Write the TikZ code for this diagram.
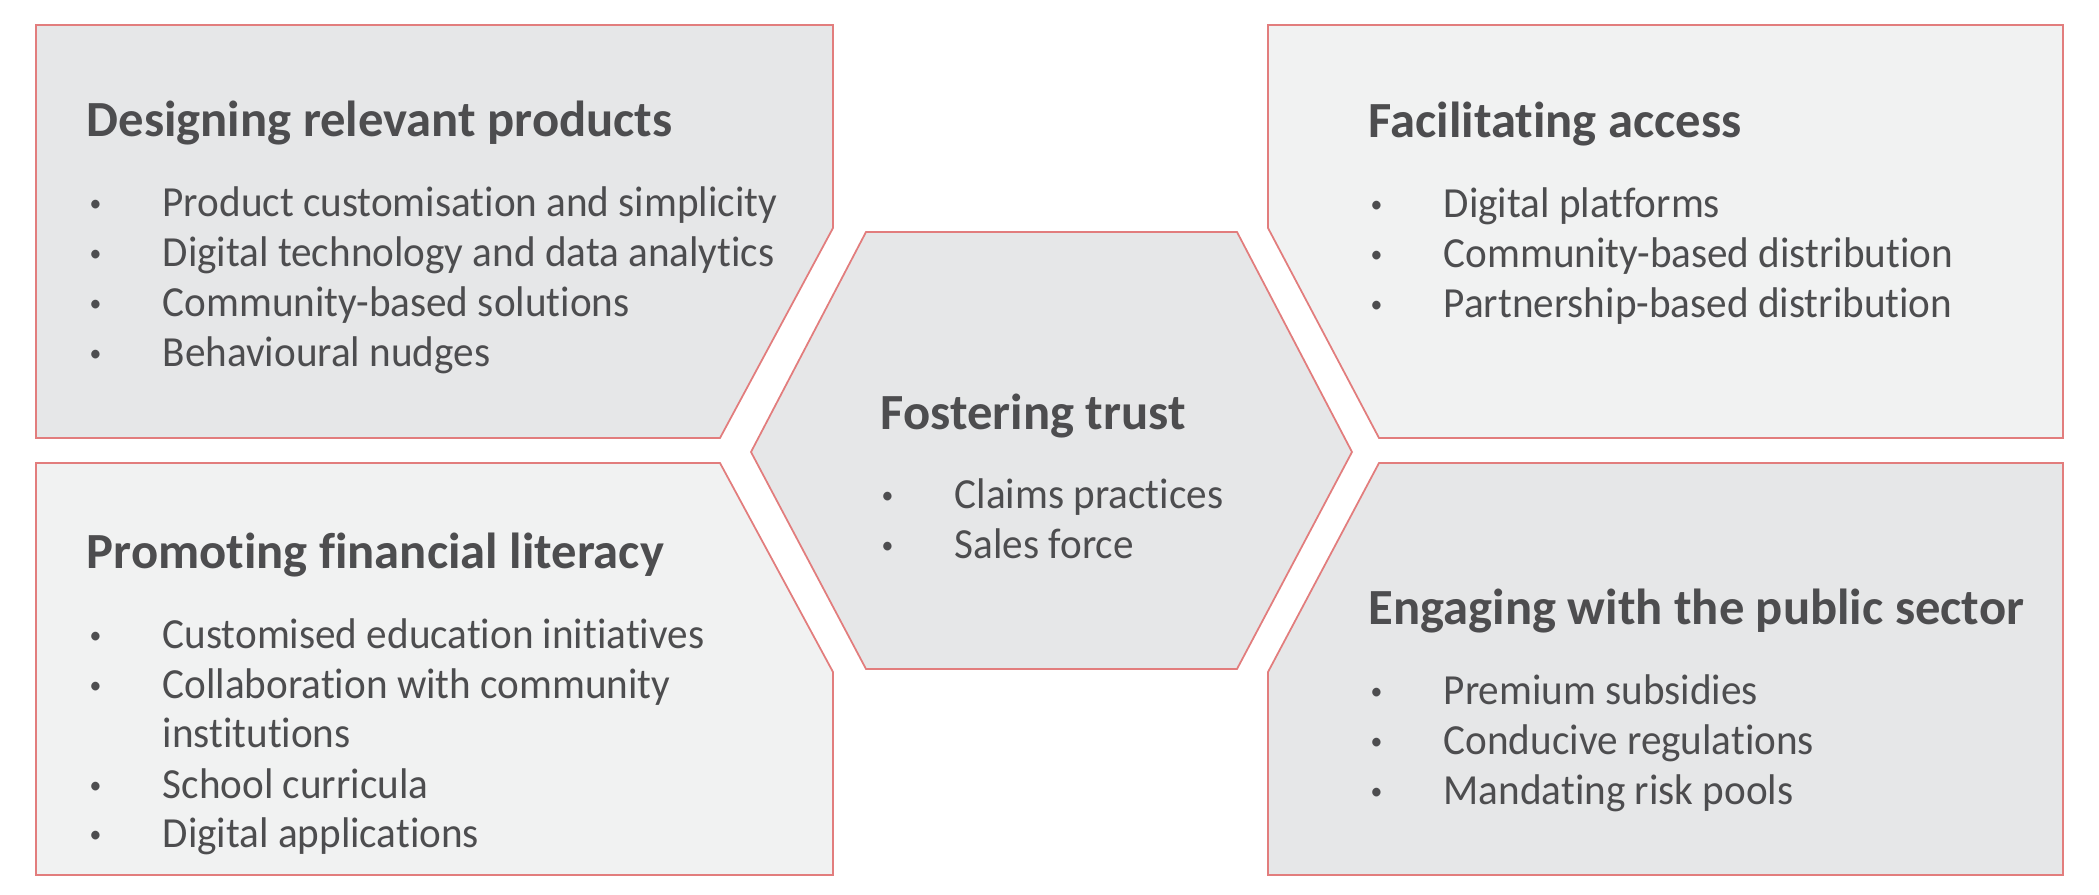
\documentclass[tikz,border=0pt]{standalone}
\usepackage{fontspec}
\setmainfont{Carlito}[Ligatures=NoCommon]
\newfontfamily\itemfont{Carlito}[Ligatures=NoCommon, FakeStretch=0.96]
\usepackage{tikz}
\definecolor{panelline}{HTML}{E27D7D}
\definecolor{paneldark}{HTML}{E6E7E8}
\definecolor{panellight}{HTML}{F1F2F2}
\definecolor{inktext}{HTML}{4D4D4F}
\newcommand{\bul}{\llap{\makebox[0.73cm][l]{\raisebox{1.7pt}{\fontsize{7}{7}\selectfont\textbullet}}}}

\begin{document}
\begin{tikzpicture}[x=0.01cm,y=-0.01cm]
\tikzset{
  panel/.style={draw=panelline, line width=0.5pt},
  heading/.style={anchor=base west, inner sep=0pt, text=inktext,
    font=\fontsize{14.4}{17}\selectfont\bfseries},
  item/.style={anchor=base west, inner sep=0pt, text=inktext,
    font=\itemfont\fontsize{12.2}{14.2}\selectfont}
}
\useasboundingbox (0,0) rectangle (2099,895);
% panels
\filldraw[panel, fill=paneldark] (36,25) -- (833,25) -- (833,228) -- (720,438) -- (36,438) -- cycle;
\filldraw[panel, fill=panellight] (1268,25) -- (2063,25) -- (2063,438) -- (1379,438) -- (1268,228) -- cycle;
\filldraw[panel, fill=panellight] (36,463) -- (720,463) -- (833,672) -- (833,875) -- (36,875) -- cycle;
\filldraw[panel, fill=paneldark] (1379,463) -- (2063,463) -- (2063,875) -- (1268,875) -- (1268,672) -- cycle;
\filldraw[panel, fill=paneldark] (866,232) -- (1237,232) -- (1352,452) -- (1237,669) -- (866,669) -- (751,452) -- cycle;
% designing
\node[heading] (design) at (86,137) {Designing relevant products};
\node[item] (design1) at (162,217) {\bul Product customisation and simplicity};
\node[item] (design2) at (162,267) {\bul Digital technology and data analytics};
\node[item] (design3) at (162,317) {\bul Community-based solutions};
\node[item] (design4) at (162,367) {\bul Behavioural nudges};
% access
\node[heading] (access) at (1368,138) {Facilitating access};
\node[item] (access1) at (1443,218) {\bul Digital platforms};
\node[item] (access2) at (1443,268) {\bul Community-based distribution};
\node[item] (access3) at (1443,318) {\bul Partnership-based distribution};
% trust
\node[heading] (trust) at (880,430) {Fostering trust};
\node[item] (trust1) at (954,509) {\bul Claims practices};
\node[item] (trust2) at (954,559) {\bul Sales force};
% literacy
\node[heading] (literacy) at (86,569) {Promoting financial literacy};
\node[item] (literacy1) at (162,649) {\bul Customised education initiatives};
\node[item] (literacy2) at (162,699) {\bul Collaboration with community};
\node[item] (literacy2b) at (162,748) {institutions};
\node[item] (literacy3) at (162,799) {\bul School curricula};
\node[item] (literacy4) at (162,848) {\bul Digital applications};
% public sector
\node[heading] (public) at (1368,625) {Engaging with the public sector};
\node[item] (public1) at (1443,705) {\bul Premium subsidies};
\node[item] (public2) at (1443,755) {\bul Conducive regulations};
\node[item] (public3) at (1443,805) {\bul Mandating risk pools};
\end{tikzpicture}
\end{document}
